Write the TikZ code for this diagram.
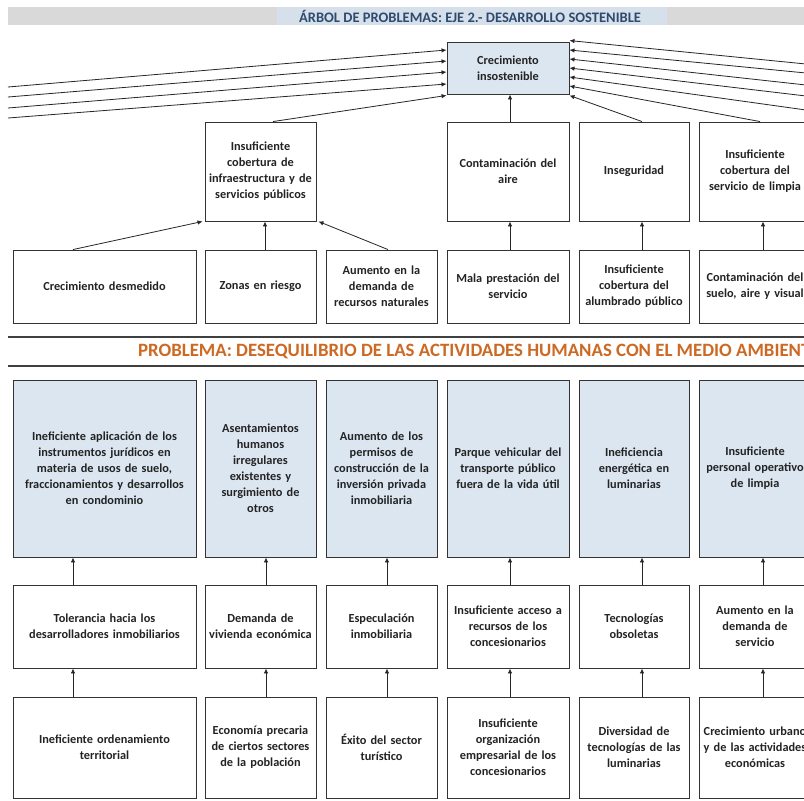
\documentclass[tikz,border=0pt]{standalone}
\usepackage{fontspec}
\setmainfont{Carlito}
\usetikzlibrary{arrows.meta}
\definecolor{boxblue}{RGB}{220,230,241}
\definecolor{ttlblue}{RGB}{46,74,110}
\definecolor{orng}{RGB}{205,105,35}
\definecolor{txt}{RGB}{35,35,35}
\definecolor{bandgray}{RGB}{217,217,217}
\definecolor{bandblue}{RGB}{214,224,234}
\tikzset{
  box/.style={draw=black!80, line width=0.9pt, inner sep=0pt, align=center,
    text=txt, font=\fontsize{12.3}{16}\selectfont\bfseries},
  bluebox/.style={box, fill=boxblue},
  arr/.style={draw=black!85, line width=0.8pt, -{Latex[length=5pt,width=4.5pt]}},
  sep/.style={draw=black!75, line width=2pt},
}
\begin{document}
\begin{tikzpicture}[x=1pt,y=-1pt]
\useasboundingbox (0,0) rectangle (804,801);
\fill[white] (0,0) rectangle (804,801);
\begin{scope}
\clip (0,0) rectangle (804,801);
% title band
\fill[bandgray] (8,7) rectangle (804,25);
\fill[bandblue] (277,7) rectangle (667,25);
\node[text=ttlblue, font=\fontsize{14.5}{16}\selectfont\bfseries] (title) at (470,16) {ÁRBOL DE PROBLEMAS: EJE 2.- DESARROLLO SOSTENIBLE};

% top box
\node[bluebox, minimum width=122, minimum height=52, text width=120] (r1) at (508,68) {Crecimiento\\insostenible};

% row 2
\node[box, minimum width=111, minimum height=99, text width=111] (r2c2) at (260.5,171.5) {Insuficiente\\cobertura de\\infraestructura y de\\servicios públicos};
\node[box, minimum width=122, minimum height=99, text width=120] (r2c4) at (508,171.5) {Contaminación del\\aire};
\node[box, minimum width=110, minimum height=99, text width=110] (r2c5) at (634,171.5) {Inseguridad};
\node[box, minimum width=112, minimum height=99, text width=112] (r2c6) at (755,171.5) {Insuficiente\\cobertura del\\servicio de limpia};

% row 3
\node[box, minimum width=183, minimum height=73, text width=180] (r3c1) at (104.5,286.5) {Crecimiento desmedido};
\node[box, minimum width=111, minimum height=73, text width=111] (r3c2) at (260.5,286.5) {Zonas en riesgo};
\node[box, minimum width=111, minimum height=73, text width=111] (r3c3) at (381.5,286.5) {Aumento en la\\demanda de\\recursos naturales};
\node[box, minimum width=122, minimum height=73, text width=120] (r3c4) at (508,286.5) {Mala prestación del\\servicio};
\node[box, minimum width=110, minimum height=73, text width=110] (r3c5) at (634,286.5) {Insuficiente\\cobertura del\\alumbrado público};
\node[box, minimum width=112, minimum height=73, text width=112] (r3c6) at (755,286.5) {Contaminación del\\suelo, aire y visual};

% left long connectors
\coordinate (L1) at (8,87);
\coordinate (L2) at (8,97);
\coordinate (L3) at (8,108);
\coordinate (L4) at (8,118);
\draw[arr] (L1) -- ([yshift=18pt]r1.west);
\draw[arr] (L2) -- ([yshift=7pt]r1.west);
\draw[arr] (L3) -- ([yshift=-4pt]r1.west);
\draw[arr] (L4) -- ([yshift=-16pt]r1.west);
\draw[arr] ([xshift=12.5pt]r2c2.north) -- ([yshift=-1pt]r1.south west);

% right long connectors
\coordinate (R1) at (806,64);
\coordinate (R2) at (806,73);
\coordinate (R3) at (806,85);
\coordinate (R4) at (806,96);
\coordinate (R5) at (806,110);
\draw[arr] (R1) -- ([yshift=1pt]r1.north east);
\draw[arr] (R2) -- ([yshift=18pt]r1.east);
\draw[arr] (R3) -- ([yshift=9pt]r1.east);
\draw[arr] (R4) -- (r1.east);
\draw[arr] (R5) -- ([yshift=-9pt]r1.east);
\draw[arr] ([xshift=5pt]r2c6.north) -- ([yshift=-18pt]r1.east);
\draw[arr] ([xshift=8pt]r2c5.north) -- ([yshift=-1pt]r1.south east);
\draw[arr] ([xshift=2pt]r2c4.north) -- ([xshift=2pt]r1.south);

% row 3 -> row 2
\draw[arr] ([xshift=-31.5pt]r3c1.north) -- ([xshift=-2pt]r2c2.south west);
\draw[arr] ([xshift=4.5pt]r3c2.north) -- ([xshift=4.5pt]r2c2.south);
\draw[arr] ([xshift=6.5pt]r3c3.north) -- ([xshift=2pt]r2c2.south east);
\draw[arr] ([xshift=2pt]r3c4.north) -- ([xshift=2pt]r2c4.south);
\draw[arr] ([xshift=8pt]r3c5.north) -- ([xshift=8pt]r2c5.south);
\draw[arr] ([xshift=8pt]r3c6.north) -- ([xshift=8pt]r2c6.south);

% separator
\coordinate (S1a) at (8,337);
\coordinate (S1b) at (806,337);
\coordinate (S2a) at (8,366);
\coordinate (S2b) at (806,366);
\draw[sep] (S1a) -- (S1b);
\draw[sep] (S2a) -- (S2b);
\node[anchor=west, inner sep=0pt, text=orng, font=\fontsize{18.8}{21}\selectfont\bfseries] (hdr) at (138,352) {PROBLEMA: DESEQUILIBRIO DE LAS ACTIVIDADES HUMANAS CON EL MEDIO AMBIENTE};

% row 4
\node[bluebox, minimum width=183, minimum height=177, text width=183] (r4c1) at (104.5,468.5) {Ineficiente aplicación de los\\instrumentos jurídicos en\\materia de usos de suelo,\\fraccionamientos y desarrollos\\en condominio};
\node[bluebox, minimum width=111, minimum height=177, text width=111] (r4c2) at (260.5,468.5) {Asentamientos\\humanos\\irregulares\\existentes y\\surgimiento de\\otros};
\node[bluebox, minimum width=111, minimum height=177, text width=111] (r4c3) at (381.5,468.5) {Aumento de los\\permisos de\\construcción de la\\inversión privada\\inmobiliaria};
\node[bluebox, minimum width=122, minimum height=177, text width=120] (r4c4) at (508,468.5) {Parque vehicular del\\transporte público\\fuera de la vida útil};
\node[bluebox, minimum width=110, minimum height=177, text width=110] (r4c5) at (634,468.5) {Ineficiencia\\energética en\\luminarias};
\node[bluebox, minimum width=112, minimum height=177, text width=112] (r4c6) at (755,468.5) {Insuficiente\\personal operativo\\de limpia};

% row 5
\node[box, minimum width=183, minimum height=83, text width=183] (r5c1) at (104.5,626.5) {Tolerancia hacia los\\desarrolladores inmobiliarios};
\node[box, minimum width=111, minimum height=83, text width=111] (r5c2) at (260.5,626.5) {Demanda de\\vivienda económica};
\node[box, minimum width=111, minimum height=83, text width=111] (r5c3) at (381.5,626.5) {Especulación\\inmobiliaria};
\node[box, minimum width=122, minimum height=83, text width=120] (r5c4) at (508,626.5) {Insuficiente acceso a\\recursos de los\\concesionarios};
\node[box, minimum width=110, minimum height=83, text width=110] (r5c5) at (634,626.5) {Tecnologías\\obsoletas};
\node[box, minimum width=112, minimum height=83, text width=112] (r5c6) at (755,626.5) {Aumento en la\\demanda de\\servicio};

% row 6
\node[box, minimum width=183, minimum height=101, text width=183] (r6c1) at (104.5,747.5) {Ineficiente ordenamiento\\territorial};
\node[box, minimum width=111, minimum height=101, text width=111] (r6c2) at (260.5,747.5) {Economía precaria\\de ciertos sectores\\de la población};
\node[box, minimum width=111, minimum height=101, text width=111] (r6c3) at (381.5,747.5) {Éxito del sector\\turístico};
\node[box, minimum width=122, minimum height=101, text width=120] (r6c4) at (508,747.5) {Insuficiente\\organización\\empresarial de los\\concesionarios};
\node[box, minimum width=110, minimum height=101, text width=110] (r6c5) at (634,747.5) {Diversidad de\\tecnologías de las\\luminarias};
\node[box, minimum width=112, minimum height=101, text width=112] (r6c6) at (755,747.5) {Crecimiento urbano\\y de las actividades\\económicas};

% row 5 -> row 4, row 6 -> row 5
\foreach \c/\dx in {1/-31.5, 2/5.5, 3/5.5, 4/2, 5/8, 6/8} {
  \draw[arr] ([xshift=\dx pt]r5c\c.north) -- ([xshift=\dx pt]r4c\c.south);
  \draw[arr] ([xshift=\dx pt]r6c\c.north) -- ([xshift=\dx pt]r5c\c.south);
}
\end{scope}
\end{tikzpicture}
\end{document}
